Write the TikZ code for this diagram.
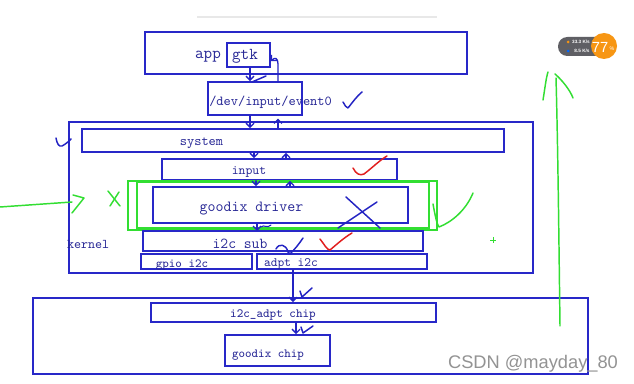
\documentclass[tikz,border=0pt]{standalone}
\usepackage{fontspec}
\newfontfamily\wmfont{Liberation Sans}
\usetikzlibrary{arrows.meta,fit}
\definecolor{lineblue}{RGB}{40,40,200}
\definecolor{textblue}{RGB}{40,40,150}
\definecolor{pengreen}{RGB}{50,222,50}
\definecolor{penred}{RGB}{225,30,30}
\definecolor{penblue}{RGB}{35,35,195}
\definecolor{badgegray}{RGB}{95,95,100}
\definecolor{badgeorange}{RGB}{247,150,20}
\begin{document}
\begin{tikzpicture}[x=0.75pt,y=-0.75pt,
  bx/.style={draw=lineblue, line width=1.3pt, inner sep=0pt, fit={#1}},
  gbx/.style={draw=pengreen, line width=1.5pt, inner sep=0pt, fit={#1}},
  lbl/.style={text=textblue, inner sep=0pt, yshift=-1.5pt, font=\ttfamily\fontsize{#1}{#1}\selectfont},
  pen/.style={line width=1.1pt, line cap=round, line join=round},
  arr/.style={draw=penblue, line width=1pt, line cap=round, -{Straight Barb[length=3pt,width=6pt]}}]
\fill[white] (0,0) rectangle (634,384);
\useasboundingbox (0,0) rectangle (634,384);
\draw[gray!18, line width=1pt] (197,17) -- (437,17);

% boxes
\node[bx={(145,32) (467,74)}] (app) {};
\node[bx={(227,43) (270,67)}] (gtk) {};
\node[lbl=12.5] (tapp) at (208,55) {app};
\node[lbl=12.5] (tgtk) at (245,54) {gtk};
\node[bx={(208,82) (302,115)}] (ev) {};
\node[lbl=10.3, anchor=west] (tev) at (209,100) {/dev/input/event0};
\node[bx={(69,122) (533,273)}] (kernel) {};
\node[lbl=10] (tkernel) at (88,242) {kernel};
\node[bx={(82,129) (504,152)}] (sys) {};
\node[lbl=10.3] (tsys) at (201.5,141) {system};
\node[bx={(162,159) (397,180)}] (inp) {};
\node[lbl=9.8] (tinp) at (249,170) {input};
\node[gbx={(128,181) (437,230)}] (gout) {};
\node[gbx={(137,182) (429,228)}] (gin) {};
\node[bx={(153,187) (408,223)}] (drv) {};
\node[lbl=11.6] (tdrv) at (251.5,207) {goodix driver};
\node[bx={(143,231) (423,251)}] (sub) {};
\node[lbl=11.4] (tsub) at (240,242) {i2c sub};
\node[bx={(141,254) (252,269)}] (gpio) {};
\node[lbl=9.3] (tgpio) at (182,263) {gpio i2c};
\node[bx={(257,254) (427,269)}] (adpt) {};
\node[lbl=9.6] (tadpt) at (291,262) {adpt i2c};
\node[bx={(33,298) (588,374)}] (hw) {};
\node[bx={(151,303) (436,322)}] (chipa) {};
\node[lbl=9.4] (tchipa) at (273,313) {i2c\_adpt chip};
\node[bx={(225,335) (330,366)}] (chipg) {};
\node[lbl=9.3] (tchipg) at (268,353) {goodix chip};

% connector columns
\coordinate (xa) at (250,0);
\coordinate (xb) at (278,0);
\coordinate (xd) at (254,0);
\coordinate (xe) at (286,0);
\coordinate (xf) at (256,0);
\coordinate (xg) at (290,0);
\coordinate (xh) at (257,0);
\coordinate (xi) at (293,0);
\coordinate (xj) at (296,0);

\draw[arr] (gtk.south -| xa) -- (ev.north -| xa);
\draw[pen, penblue] (252,82) -- (266,76);
\draw[arr] (ev.north -| xb) -- (278,64) .. controls (278,58) and (275,57) .. ([yshift=5pt]gtk.south east);
\draw[arr] (ev.south -| xa) -- (sys.north -| xa);
\draw[arr, shorten >=2pt] (sys.north -| xb) -- (ev.south -| xb);
\draw[arr] (sys.south -| xd) -- (inp.north -| xd);
\draw[arr] (inp.north -| xe) -- (sys.south -| xe);
\draw[arr] (inp.south -| xf) -- (drv.north -| xf);
\draw[arr] (drv.north -| xg) -- (inp.south -| xg);
\draw[arr] (drv.south -| xh) -- (gout.south -| xh);
\draw[pen, penblue, line width=0.8pt] (261,227) .. controls (264,224) and (267,229) .. (271,225);
\draw[pen, penblue] (276,249) .. controls (279,243) and (286,244) .. (288,252) -- (290,254) .. controls (295,249) and (299,244) .. (303,238);
\draw[arr] (adpt.south -| xi) -- (chipa.north -| xi);
\draw[pen, penblue] (300,291) -- (302,297) -- (312,288);
\draw[arr] (chipa.south -| xj) -- (chipg.north -| xj);
\draw[pen, penblue] (301,327) -- (303,333) -- (313,326);

% blue marks
\draw[pen, penblue] (343,102) .. controls (345,105) and (346,108) .. (348,108) .. controls (352,103) and (357,96) .. (362,92);
\draw[pen, penblue] (56,138) .. controls (57,144) and (59,147) .. (62,146) .. controls (66,144) and (69,141) .. (71,139);
\draw[pen, penblue] (346,197) -- (380,228);
\draw[pen, penblue] (377,202) -- (338,228);

% red marks
\draw[pen, penred] (353,168) .. controls (356,174) and (360,176) .. (364,174) .. controls (372,168) and (380,160) .. (387,156);
\draw[pen, penred] (320,239) .. controls (324,244) and (327,250) .. (330,250) .. controls (337,244) and (345,237) .. (352,233);

% green marks
\draw[pen, pengreen] (0,207) -- (72,202);
\draw[pen, pengreen] (73,195) -- (84,198) -- (72,213);
\draw[pen, pengreen] (108,191) -- (120,206);
\draw[pen, pengreen] (119,192) -- (110,206);
\draw[pen, pengreen] (433,204) .. controls (435,215) and (437,225) .. (439,227) .. controls (452,222) and (466,210) .. (473,193);
\draw[pengreen, line width=0.7pt] (490,240) -- (496,240) (493,237) -- (493,243);
\draw[pen, pengreen] (556,78) .. controls (558,150) and (559,250) .. (560,326);
\draw[pen, pengreen] (543,100) .. controls (545,88) and (546,78) .. (548,72);
\draw[pen, pengreen] (555,74) .. controls (562,80) and (570,90) .. (573,98);

% badge
\fill[badgegray, rounded corners=7pt] (558,37) rectangle (606,56);
\fill[badgeorange] (604,46) circle[radius=13];
\node[text=white, inner sep=0pt, font=\wmfont\fontsize{11}{11}\selectfont] (b77) at (600,47) {77};
\node[text=white, inner sep=0pt, font=\wmfont\fontsize{4}{4}\selectfont] (bpc) at (612,49) {\%};
\node[text=white, inner sep=0pt, font=\wmfont\bfseries\fontsize{3.5}{3.5}\selectfont] (bup) at (581,42) {33.3 K/s};
\node[text=white, inner sep=0pt, font=\wmfont\bfseries\fontsize{3.5}{3.5}\selectfont] (bdn) at (582,51) {8.5 K/s};
\fill[badgeorange] (568,42) circle[radius=1.5];
\fill[blue!60!cyan] (568,51) circle[radius=1.5];

% watermark
\node[text=gray!85, inner sep=0pt, font=\wmfont\fontsize{13.7}{14}\selectfont] (wm) at (533,364) {CSDN @mayday\_80};
\end{tikzpicture}
\end{document}
